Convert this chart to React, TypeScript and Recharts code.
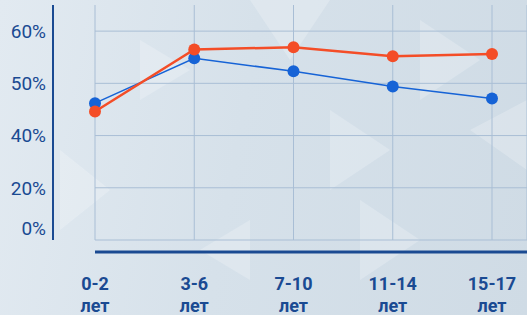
import React from "react";
import { LineChart, Line, XAxis, YAxis, CartesianGrid } from "recharts";

const categories = ["0-2", "3-6", "7-10", "11-14", "15-17"];
const unitLabel = "лет";
const blueValues = [46.2, 54.8, 52.3, 49.4, 47.1];
const redValues = [44.6, 56.5, 56.9, 55.2, 55.6];
const yTickValues = [20, 30, 40, 50, 60];
const yTickLabels = ["0%", "20%", "40%", "50%", "60%"];

const data = categories.map((c, i) => ({ cat: c, blue: blueValues[i], red: redValues[i] }));

const AXIS = "#1a4a92";

// decorative background triangles (not data)
const bgShapes = [
  "250,0 330,0 290,60",
  "330,110 390,150 330,190",
  "420,20 480,60 420,100",
  "200,250 250,220 250,280",
  "60,150 110,190 60,230",
  "470,130 527,100 527,170",
  "140,40 190,70 140,100",
  "360,200 420,240 360,280",
];

const YTick = (props: any) => {
  const { x, y, payload } = props;
  const idx = yTickValues.indexOf(payload.value);
  const label = yTickLabels[idx] ?? "";
  const shift = idx === 0 ? -12 : 0;
  return (
    <text x={x} y={y + shift} dy="0.36em" textAnchor="end" fill={AXIS} fontSize={19} fontFamily="Roboto" fontWeight={400}>
      {label}
    </text>
  );
};

const XTick = (props: any) => {
  const { x, y, payload } = props;
  return (
    <text x={x} textAnchor="middle" fill={AXIS} fontSize={18} fontFamily="Roboto" fontWeight={700}>
      <tspan x={x} y={y + 38}>{payload.value}</tspan>
      <tspan x={x} y={y + 60}>{unitLabel}</tspan>
    </text>
  );
};

const applyScale = (scale: any, v: number): number | undefined => {
  if (!scale) return undefined;
  if (typeof scale === "function") return scale(v);
  if (typeof scale.map === "function") return scale.map(v);
  if (typeof scale.scale === "function") return scale.scale(v);
  return undefined;
};

const hGen = (props: any) => {
  const scale = props?.yAxis?.scale;
  const out = yTickValues.map((v) => applyScale(scale, v)).filter((n) => typeof n === "number" && isFinite(n as number));
  return out as number[];
};

export default function App() {
  return (
    <div
      style={{
        position: "absolute",
        left: 0,
        top: 0,
        width: 527,
        height: 315,
        overflow: "hidden",
        background: "linear-gradient(100deg, #e2eaf1 0%, #d6e1ea 45%, #cfdbe5 100%)",
      }}
    >
      <svg width={527} height={315} style={{ position: "absolute", left: 0, top: 0 }}>
        {bgShapes.map((p, i) => (
          <polygon key={i} points={p} fill="#ffffff" opacity={0.22} />
        ))}
      </svg>
      <div style={{ position: "absolute", left: 0, top: 0 }}>
        <LineChart width={527} height={315} data={data} margin={{ top: 5, right: 0, bottom: 0, left: 0 }}>
          <CartesianGrid
            xAxisId="zmain"
            yAxisId="zmain"
            stroke="#a9bed5"
            strokeWidth={1}
            horizontalCoordinatesGenerator={hGen}
          />
          <XAxis xAxisId="aspacer" dataKey="cat" height={12} tick={false} axisLine={false} tickLine={false} padding={{ left: 0, right: 35 }} />
          <XAxis
            xAxisId="zmain"
            dataKey="cat"
            height={63}
            tick={<XTick />}
            tickSize={0}
            tickMargin={0}
            tickLine={false}
            axisLine={{ stroke: AXIS, strokeWidth: 3 }}
            padding={{ left: 0, right: 35 }}
            interval={0}
          />
          <YAxis yAxisId="aspacer" width={42} domain={[20, 65]} tick={false} axisLine={false} tickLine={false} />
          <YAxis
            yAxisId="zmain"
            width={53}
            domain={[20, 65]}
            ticks={yTickValues}
            tick={<YTick />}
            tickSize={0}
            tickMargin={7}
            tickLine={false}
            axisLine={{ stroke: AXIS, strokeWidth: 2 }}
            interval={0}
          />
          <Line
            xAxisId="zmain"
            yAxisId="zmain"
            dataKey="blue"
            stroke="#1663d6"
            strokeWidth={1.5}
            dot={{ r: 6, fill: "#1663d6", stroke: "none" }}
            activeDot={false}
            isAnimationActive={false}
          />
          <Line
            xAxisId="zmain"
            yAxisId="zmain"
            dataKey="red"
            stroke="#f44d27"
            strokeWidth={2.5}
            dot={{ r: 6, fill: "#f44d27", stroke: "none" }}
            activeDot={false}
            isAnimationActive={false}
          />
        </LineChart>
      </div>
    </div>
  );
}
